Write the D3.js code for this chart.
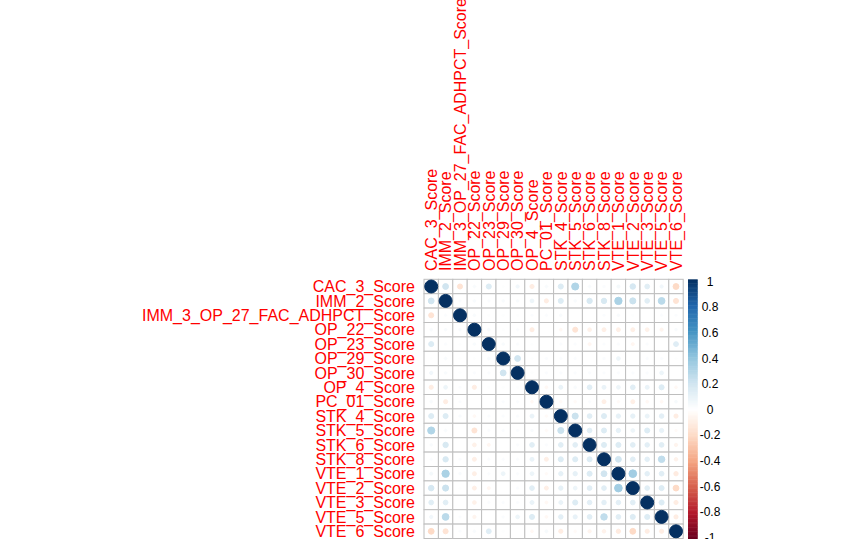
<!DOCTYPE html>
<html>
<head>
<meta charset="utf-8">
<script src="https://cdn.jsdelivr.net/npm/d3@7"></script>
<style>
  html, body { margin: 0; padding: 0; background: #fff; }
  svg { display: block; }
  text { font-family: "Liberation Sans", Arial, sans-serif; }
</style>
</head>
<body>
<svg id="chart" width="862" height="539"></svg>
<script>
const labels = ["CAC_3_Score","IMM_2_Score","IMM_3_OP_27_FAC_ADHPCT_Score","OP_22_Score","OP_23_Score","OP_29_Score","OP_30_Score","OP_4_Score","PC_01_Score","STK_4_Score","STK_5_Score","STK_6_Score","STK_8_Score","VTE_1_Score","VTE_2_Score","VTE_3_Score","VTE_5_Score","VTE_6_Score"];

const corrMatrix = [
  [1, 0.2, -0.15, 0.03, 0.15, 0.01, 0.06, -0.1, 0.03, 0.15, 0.3, 0.03, 0.02, 0.05, 0.18, 0.13, 0.06, -0.2],
  [0.2, 1, 0.02, 0.03, 0.02, 0.03, 0.03, 0.08, -0.1, 0.15, 0.03, 0.17, 0.17, 0.32, 0.22, 0.13, 0.27, -0.15],
  [-0.15, 0.02, 1, 0.03, 0.01, 0.01, 0.01, 0.02, 0.02, 0.03, 0, 0, 0.02, 0.03, 0.01, 0, 0.02, 0.02],
  [0.03, 0.03, 0.03, 1, 0.03, 0.01, 0.02, -0.1, 0, -0.04, -0.15, -0.08, -0.09, -0.09, -0.09, -0.08, -0.06, 0.03],
  [0.15, 0.02, 0.01, 0.03, 1, 0.03, 0.02, 0.01, 0, 0.02, 0.02, -0.05, 0.02, 0.02, -0.05, 0.02, 0, 0.14],
  [0.01, 0.03, 0.01, 0.01, 0.03, 1, 0.2, 0.01, 0.02, 0.02, 0.02, 0, 0.02, 0.08, 0, 0.02, 0.02, 0.01],
  [0.06, 0.03, 0.01, 0.02, 0.02, 0.2, 1, 0.01, 0.02, 0.02, 0.02, 0.02, 0.02, 0.02, 0.02, 0.02, 0.08, 0],
  [-0.1, 0.08, 0.02, -0.1, 0.01, 0.01, 0.01, 1, -0.04, 0.09, 0.03, 0.13, 0.09, 0.08, 0.13, 0.09, 0.15, -0.04],
  [0.03, -0.1, 0.02, 0, 0, 0.02, 0.02, -0.04, 1, -0.03, -0.03, 0.02, -0.09, -0.03, -0.09, -0.04, -0.04, 0.04],
  [0.15, 0.15, 0.03, -0.04, 0.02, 0.02, 0.02, 0.09, -0.03, 1, 0.22, 0.13, 0.15, 0.11, 0.11, 0.09, 0.12, -0.1],
  [0.3, 0.03, 0, -0.15, 0.02, 0.02, 0.02, 0.03, -0.03, 0.22, 1, 0.13, 0.15, 0.11, 0.08, 0.15, 0.1, -0.03],
  [0.03, 0.17, 0, -0.08, -0.05, 0, 0.02, 0.13, 0.02, 0.13, 0.13, 1, 0.15, 0.15, 0.13, 0.12, 0.13, -0.06],
  [0.02, 0.17, 0.02, -0.09, 0.02, 0.02, 0.02, 0.09, -0.09, 0.15, 0.15, 0.15, 1, 0.2, 0.13, 0.12, 0.25, -0.07],
  [0.05, 0.32, 0.03, -0.09, 0.02, 0.08, 0.02, 0.08, -0.03, 0.11, 0.11, 0.15, 0.2, 1, 0.35, 0.12, 0.13, -0.11],
  [0.18, 0.22, 0.01, -0.09, -0.05, 0, 0.02, 0.13, -0.09, 0.11, 0.08, 0.13, 0.13, 0.35, 1, 0.13, 0.15, -0.2],
  [0.13, 0.13, 0, -0.08, 0.02, 0.02, 0.02, 0.09, -0.04, 0.09, 0.15, 0.12, 0.12, 0.12, 0.13, 1, 0.15, -0.1],
  [0.06, 0.27, 0.02, -0.06, 0, 0.02, 0.08, 0.15, -0.04, 0.12, 0.1, 0.13, 0.25, 0.13, 0.15, 0.15, 1, -0.1],
  [-0.2, -0.15, 0.02, 0.03, 0.14, 0.01, 0, -0.04, 0.04, -0.1, -0.03, -0.06, -0.07, -0.11, -0.2, -0.1, -0.1, 1]
];

const legendTicks = [1, 0.8, 0.6, 0.4, 0.2, 0, -0.2, -0.4, -0.6, -0.8, -1];
const legendTickLabels = ["1", "0.8", "0.6", "0.4", "0.2", "0", "-0.2", "-0.4", "-0.6", "-0.8", "-1"];
const paletteStops = ["#67001F", "#B2182B", "#D6604D", "#F4A582", "#FDDBC7", "#FFFFFF", "#D1E5F0", "#92C5DE", "#4393C3", "#2166AC", "#053061"];

const svg = d3.select("#chart");

const x = d3.scaleBand().domain(labels).range([424, 683.2]).padding(0);
const y = d3.scaleBand().domain(labels).range([279.3, 538.5]).padding(0);
const step = x.bandwidth();

const color = d3.scaleLinear()
  .domain(d3.range(paletteStops.length).map(i => -1 + 2 * i / (paletteStops.length - 1)))
  .range(paletteStops)
  .interpolate(d3.interpolateRgb);

const cells = [];
labels.forEach((rl, i) => labels.forEach((cl, j) => cells.push({row: rl, col: cl, v: corrMatrix[i][j]})));

// grid
svg.append("g").selectAll("rect").data(cells).join("rect")
  .attr("x", d => x(d.col))
  .attr("y", d => y(d.row))
  .attr("width", step)
  .attr("height", step)
  .attr("fill", "#fff")
  .attr("stroke", "#BEBEBE")
  .attr("stroke-width", 1);

// circles
const rScale = d3.scaleSqrt().domain([0, 1]).range([0, step * 0.45]);
svg.append("g").selectAll("circle").data(cells).join("circle")
  .attr("cx", d => x(d.col) + step / 2)
  .attr("cy", d => y(d.row) + step / 2)
  .attr("r", d => rScale(Math.abs(d.v)))
  .attr("fill", d => color(d.v))
  .attr("stroke", d => color(d.v))
  .attr("stroke-width", 1);

// row labels
svg.append("g").selectAll("text").data(labels).join("text")
  .attr("x", 415)
  .attr("y", d => y(d) + step / 2)
  .attr("dy", "0.36em")
  .attr("text-anchor", "end")
  .attr("font-size", 16)
  .attr("fill", "#FF0000")
  .text(d => d);

// column labels
svg.append("g").selectAll("text").data(labels).join("text")
  .attr("transform", d => `translate(${x(d) + step / 2},271) rotate(-90)`)
  .attr("dy", "0.36em")
  .attr("text-anchor", "start")
  .attr("font-size", 16)
  .attr("fill", "#FF0000")
  .text(d => d);

// color legend
const barY = d3.scaleLinear().domain([-1, 1]).range([539, 279.3]);
const nSlices = 200;
const slices = d3.range(nSlices).map(i => -1 + 2 * (i + 0.5) / nSlices);
svg.append("g").selectAll("rect").data(slices).join("rect")
  .attr("x", 688)
  .attr("width", 9.7)
  .attr("y", d => barY(d + 1 / nSlices))
  .attr("height", d => barY(d - 1 / nSlices) - barY(d + 1 / nSlices) + 0.5)
  .attr("fill", d => color(d));

const labY = d3.scaleLinear().domain([-1, 1]).range([537.5, 281.5]);
svg.append("g").selectAll("text").data(legendTicks).join("text")
  .attr("x", 710)
  .attr("y", d => labY(d))
  .attr("dy", "0.36em")
  .attr("text-anchor", "middle")
  .attr("font-size", 12)
  .attr("fill", "#000")
  .text((d, i) => legendTickLabels[i]);
</script>
</body>
</html>
